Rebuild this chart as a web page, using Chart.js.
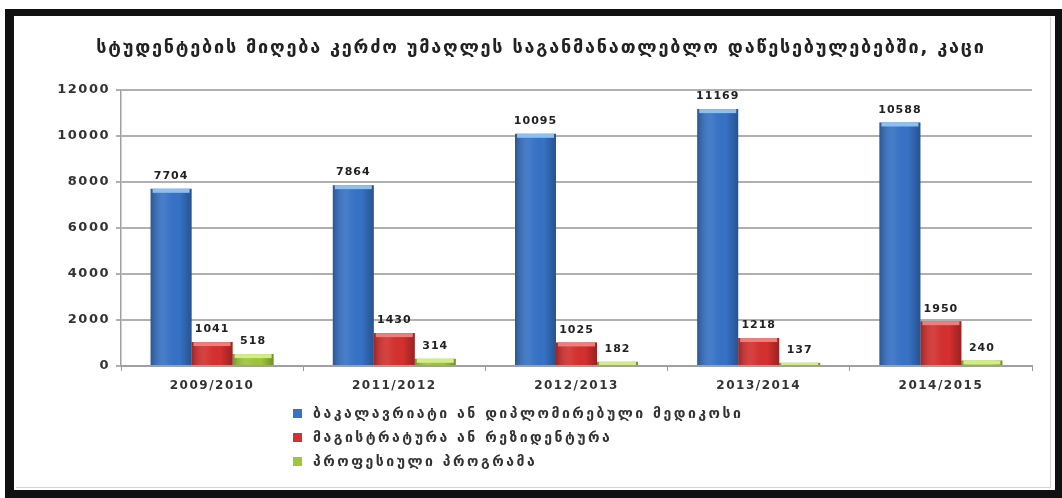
<!DOCTYPE html>
<html><head><meta charset="utf-8">
<script src="https://cdn.jsdelivr.net/npm/chart.js@4.4.1/dist/chart.umd.min.js"></script>
<style>
html,body{margin:0;padding:0;background:#fff;width:1062px;height:498px;overflow:hidden;}
#wrap{position:relative;width:1062px;height:498px;}
canvas{position:absolute;left:0;top:0;}
#frame{position:absolute;left:5px;top:9px;width:1041px;height:474px;border-style:solid;border-color:#111;border-width:7px 7px 8px 9px;pointer-events:none;}
#inner{position:absolute;left:16px;top:17px;width:1034px;height:470px;border-right:1px solid #d4d4d4;border-bottom:1px solid #d4d4d4;pointer-events:none;}
#title{position:absolute;left:5px;top:36px;width:1072px;text-align:center;font:bold 18px "DejaVu Sans";letter-spacing:1.8px;color:#222;white-space:nowrap;}
#legend{position:absolute;left:293px;top:401px;font:bold 14px "DejaVu Sans";letter-spacing:2.5px;color:#333;}
.item{height:24px;display:flex;align-items:center;white-space:nowrap;}
.sw{width:9px;height:9px;margin-right:11px;flex:none;}
</style>
</head><body>
<div id="wrap">
<canvas id="c" width="1062" height="498"></canvas>
<div id="inner"></div>
<div id="frame"></div>
<div id="title"></div>
<div id="legend"></div>
</div>
<script>
const titleText = 'სტუდენტების მიღება კერძო უმაღლეს საგანმანათლებლო დაწესებულებებში, კაცი';
const categories = ['2009/2010', '2011/2012', '2012/2013', '2013/2014', '2014/2015'];
const seriesNames = ['ბაკალავრიატი ან დიპლომირებული მედიკოსი', 'მაგისტრატურა ან რეზიდენტურა', 'პროფესიული პროგრამა'];
const bachelor = [7704, 7864, 10095, 11169, 10588];
const master = [1041, 1430, 1025, 1218, 1950];
const vocational = [518, 314, 182, 137, 240];
const yTicks = [0, 2000, 4000, 6000, 8000, 10000, 12000];
const seriesColors = ['#3672c6', '#d4302e', '#9ec63a'];
const capColors = ['#8cc0f0', '#ef7d7a', '#d2ec8a'];

document.getElementById('title').textContent = titleText;
const lg = document.getElementById('legend');
seriesNames.forEach((n, i) => {
  const d = document.createElement('div'); d.className = 'item';
  const s = document.createElement('span'); s.className = 'sw'; s.style.background = seriesColors[i];
  const t = document.createElement('span'); t.textContent = n;
  d.appendChild(s); d.appendChild(t); lg.appendChild(d);
});

const spacing = {
  id: 'spacing',
  beforeDraw(chart) { chart.ctx.letterSpacing = '1.5px'; },
  afterDraw(chart) { chart.ctx.letterSpacing = '0px'; }
};

const barDeco = {
  id: 'barDeco',
  afterDatasetsDraw(chart) {
    const ctx = chart.ctx;
    ctx.save();
    chart.data.datasets.forEach((ds, i) => {
      const meta = chart.getDatasetMeta(i);
      meta.data.forEach((bar, j) => {
        const w = bar.width, x0 = bar.x - w / 2, h = bar.base - bar.y;
        const g = ctx.createLinearGradient(x0, 0, x0 + w, 0);
        g.addColorStop(0, 'rgba(0,0,0,0.25)');
        g.addColorStop(0.35, 'rgba(255,255,255,0.08)');
        g.addColorStop(0.7, 'rgba(0,0,0,0)');
        g.addColorStop(1, 'rgba(0,0,0,0.28)');
        ctx.fillStyle = g;
        ctx.fillRect(x0, bar.y, w, h);
        ctx.fillStyle = capColors[i];
        ctx.fillRect(x0 + 2, bar.y, w - 4, Math.min(4, h));
        ctx.fillStyle = '#222';
        ctx.letterSpacing = '1px';
        ctx.font = 'bold 11px "DejaVu Sans"';
        ctx.textAlign = 'center';
        ctx.textBaseline = 'bottom';
        ctx.fillText(String(ds.data[j]), bar.x, bar.y - 7);
      });
    });
    ctx.restore();
  }
};

new Chart(document.getElementById('c'), {
  type: 'bar',
  data: {
    labels: categories,
    datasets: [
      { label: seriesNames[0], data: bachelor, backgroundColor: seriesColors[0] },
      { label: seriesNames[1], data: master, backgroundColor: seriesColors[1] },
      { label: seriesNames[2], data: vocational, backgroundColor: seriesColors[2] }
    ]
  },
  options: {
    responsive: false,
    animation: false,
    layout: { padding: { left: 41, right: 30, top: 90, bottom: 102 } },
    datasets: { bar: { categoryPercentage: 0.675, barPercentage: 1.0 } },
    plugins: { legend: { display: false }, title: { display: false }, tooltip: { enabled: false } },
    scales: {
      x: {
        afterFit(s) { s.height = 30; },
        grid: { offset: true, drawOnChartArea: false, drawTicks: true, tickLength: 5, color: '#9a9a9a', lineWidth: 1 },
        border: { display: true, color: '#a0a0a0', width: 2 },
        ticks: { padding: 8, color: '#333', font: { family: '"DejaVu Sans"', size: 12, weight: 'bold' } }
      },
      y: {
        min: 0, max: 12000,
        afterFit(s) { s.width = 80; },
        afterBuildTicks(s) { s.ticks = yTicks.map(v => ({ value: v })); },
        grid: { color: '#b0b0b0', lineWidth: 2, tickLength: 5, drawTicks: true },
        border: { display: true, color: '#a0a0a0', width: 1.5 },
        ticks: {
          padding: 6, color: '#333',
          font: { family: '"DejaVu Sans"', size: 13, weight: 'bold' },
          callback: (v) => String(v)
        }
      }
    }
  },
  plugins: [spacing, barDeco]
});
</script>
</body></html>
